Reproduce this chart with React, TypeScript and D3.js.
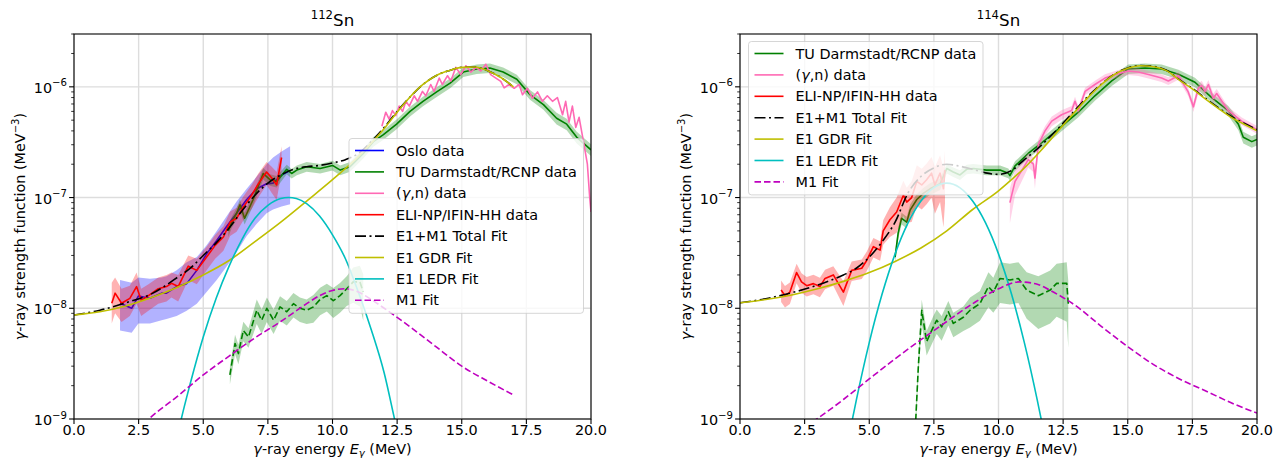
import React from 'react';
import * as d3 from 'd3';

type P = [number, number];
type PR = [number, number, number];
type PB = [number, number, number, number];

// ---------------- 112Sn ----------------
const sn112Oslo: PB[] = [
  [1.78, 1.11e-8, 6.3e-9, 1.8e-8], [2.23, 1.0e-8, 6.0e-9, 1.7e-8], [2.49, 1.29e-8, 7.3e-9, 1.9e-8],
  [2.94, 1.23e-8, 7.3e-9, 1.85e-8], [3.39, 1.37e-8, 7.8e-9, 1.9e-8], [3.58, 1.37e-8, 8.0e-9, 1.95e-8],
  [3.97, 1.57e-8, 8.5e-9, 2.2e-8], [4.36, 1.67e-8, 9.5e-9, 2.6e-8], [4.75, 2.2e-8, 1.1e-8, 2.9e-8],
  [5.13, 3.1e-8, 1.4e-8, 3.7e-8], [5.52, 4.1e-8, 1.8e-8, 5.0e-8], [5.91, 5.5e-8, 2.4e-8, 6.8e-8],
  [6.29, 7.2e-8, 3.2e-8, 9.2e-8], [6.68, 9.6e-8, 4.5e-8, 1.2e-7], [7.07, 1.2e-7, 5.8e-8, 1.55e-7],
  [7.45, 1.33e-7, 7.2e-8, 2.0e-7], [7.7, 1.35e-7, 7.8e-8, 2.3e-7], [8.03, 1.6e-7, 8.3e-8, 2.6e-7],
  [8.36, 1.75e-7, 8.7e-8, 2.9e-7],
];
const sn112Eli: PB[] = [
  [1.46, 1.11e-8, 7.3e-9, 1.7e-8], [1.59, 1.37e-8, 9.0e-9, 1.9e-8], [1.84, 1.11e-8, 7.5e-9, 1.5e-8],
  [2.16, 1.23e-8, 8.5e-9, 1.6e-8], [2.42, 1.57e-8, 1.1e-8, 2.1e-8], [2.6, 1.18e-8, 8.5e-9, 1.5e-8],
  [2.88, 1.3e-8, 9.5e-9, 1.65e-8], [3.26, 1.5e-8, 1.1e-8, 1.9e-8], [3.58, 1.57e-8, 1.15e-8, 2.0e-8],
  [3.77, 1.68e-8, 1.25e-8, 2.1e-8], [4.03, 1.57e-8, 1.15e-8, 2.0e-8], [4.42, 2.4e-8, 1.8e-8, 3.0e-8],
  [4.75, 2.2e-8, 1.65e-8, 2.8e-8], [5.13, 2.9e-8, 2.2e-8, 3.6e-8], [5.46, 3.7e-8, 2.8e-8, 4.6e-8],
  [5.78, 4.4e-8, 3.3e-8, 5.5e-8], [6.04, 6.0e-8, 4.5e-8, 7.5e-8], [6.29, 6.5e-8, 4.9e-8, 8.1e-8],
  [6.55, 8.2e-8, 6.2e-8, 1.02e-7], [6.87, 1.05e-7, 7.9e-8, 1.3e-7], [7.13, 1.33e-7, 1.0e-7, 1.65e-7],
  [7.45, 1.7e-7, 1.3e-7, 2.1e-7], [7.65, 1.5e-7, 1.1e-7, 1.9e-7], [7.84, 1.3e-7, 9.5e-8, 1.7e-7],
  [8.03, 2.3e-7, 1.7e-7, 2.9e-7],
];
const sn112TuE1: PR[] = [
  [5.97, 5.0e-8, 0.12], [6.1, 6.0e-8, 0.12], [6.29, 7.2e-8, 0.12], [6.42, 8.6e-8, 0.12], [6.6, 6.5e-8, 0.12],
  [6.93, 9.6e-8, 0.12], [7.32, 1.65e-7, 0.12], [7.58, 1.45e-7, 0.12], [7.84, 1.4e-7, 0.12], [8.23, 1.8e-7, 0.1],
  [8.42, 1.65e-7, 0.1], [8.62, 1.77e-7, 0.1], [9.0, 1.9e-7, 0.1], [9.52, 1.83e-7, 0.1], [10.0, 1.95e-7, 0.1],
  [10.3, 1.77e-7, 0.1], [10.68, 1.9e-7, 0.1], [11.19, 2.5e-7, 0.1], [11.58, 3.2e-7, 0.1], [11.97, 3.7e-7, 0.1],
  [12.48, 4.6e-7, 0.1], [13.0, 6.0e-7, 0.1], [13.5, 7.4e-7, 0.1], [14.03, 9.0e-7, 0.1], [14.55, 1.08e-6, 0.1],
  [15.06, 1.36e-6, 0.1], [15.58, 1.45e-6, 0.1], [16.09, 1.48e-6, 0.1], [16.6, 1.36e-6, 0.1], [17.13, 1.17e-6, 0.1],
  [17.64, 8.5e-7, 0.1], [18.16, 6.9e-7, 0.1], [18.67, 5.2e-7, 0.12], [19.06, 4.6e-7, 0.12], [19.45, 3.5e-7, 0.12],
  [20.0, 2.7e-7, 0.12],
];
const sn112TuM1: PR[] = [
  [6.03, 2.5e-9, 0.18], [6.23, 4.8e-9, 0.2], [6.36, 3.9e-9, 0.2], [6.55, 6.3e-9, 0.2], [6.75, 5.5e-9, 0.2],
  [7.07, 9.6e-9, 0.25], [7.26, 7.8e-9, 0.25], [7.46, 1.0e-8, 0.25], [7.72, 7.8e-9, 0.25], [7.97, 1.03e-8, 0.25],
  [8.23, 9.3e-9, 0.25], [8.49, 1.1e-8, 0.25], [8.74, 1.0e-8, 0.25], [9.0, 9.6e-9, 0.25], [9.26, 1.03e-8, 0.28],
  [9.52, 1.2e-8, 0.28], [9.78, 1.3e-8, 0.28], [10.03, 1.17e-8, 0.3], [10.29, 1.3e-8, 0.3], [10.55, 1.5e-8, 0.3],
  [10.8, 1.73e-8, 0.35], [11.06, 1.73e-8, 0.4], [11.19, 1.4e-8, 0.45],
];
const sn112GammaN: P[] = [
  [11.91, 4.4e-7], [12.06, 5.9e-7], [12.19, 5.1e-7], [12.32, 6.1e-7], [12.45, 5.5e-7], [12.58, 6.7e-7],
  [12.71, 6.0e-7], [12.84, 7.4e-7], [12.97, 6.7e-7], [13.16, 8.3e-7], [13.29, 7.4e-7], [13.48, 9.1e-7],
  [13.61, 8.3e-7], [13.8, 1.05e-6], [13.93, 9.1e-7], [14.13, 1.2e-6], [14.25, 1.05e-6], [14.45, 1.26e-6],
  [14.58, 1.13e-6], [14.77, 1.5e-6], [14.96, 1.29e-6], [15.16, 1.55e-6], [15.35, 1.36e-6], [15.55, 1.5e-6],
  [15.74, 1.39e-6], [15.93, 1.6e-6], [16.12, 1.29e-6], [16.32, 1.2e-6], [16.51, 1.12e-6], [16.64, 9.8e-7],
  [16.83, 1.05e-6], [17.03, 9.7e-7], [17.22, 1.05e-6], [17.35, 8.5e-7], [17.54, 9.7e-7], [17.73, 7.9e-7],
  [17.93, 9.0e-7], [18.12, 7.4e-7], [18.31, 8.3e-7], [18.51, 7.4e-7], [18.7, 8.0e-7], [18.9, 5.6e-7],
  [19.02, 7.4e-7], [19.15, 4.8e-7], [19.28, 6.7e-7], [19.41, 4.3e-7], [19.54, 5.3e-7], [19.73, 3.0e-7],
  [19.86, 2.0e-7], [19.95, 1.0e-7], [20.0, 7.4e-8],
];
const sn112Total: P[] = [
  [0, 8.7e-9], [1, 9.6e-9], [2, 1.12e-8], [3, 1.35e-8], [4, 1.9e-8], [4.5, 2.3e-8], [5, 3.0e-8], [5.5, 3.9e-8],
  [6, 5.3e-8], [6.5, 7.6e-8], [7, 1.05e-7], [7.5, 1.35e-7], [8, 1.6e-7], [8.5, 1.8e-7], [9, 1.9e-7],
  [9.5, 1.95e-7], [10, 2.05e-7], [10.5, 2.2e-7], [11, 2.5e-7], [11.5, 3.2e-7], [12, 4.3e-7], [12.5, 6.0e-7],
  [13, 8.1e-7], [13.5, 1.05e-6], [14, 1.26e-6], [14.5, 1.4e-6], [15, 1.5e-6], [15.5, 1.51e-6], [16, 1.4e-6],
  [16.5, 1.22e-6], [17, 1.0e-6],
];
const sn112Gdr: P[] = [
  [0, 8.7e-9], [1, 9.3e-9], [2, 1.05e-8], [3, 1.25e-8], [4, 1.55e-8], [5, 2.0e-8], [6, 2.7e-8], [7, 4.0e-8],
  [8, 6.0e-8], [9, 9.3e-8], [10, 1.45e-7], [11, 2.35e-7], [11.5, 3.1e-7], [12, 4.2e-7], [12.5, 5.9e-7],
  [13, 8.1e-7], [13.5, 1.05e-6], [14, 1.26e-6], [14.5, 1.4e-6], [15, 1.5e-6], [15.5, 1.51e-6], [16, 1.4e-6],
  [16.5, 1.22e-6], [17, 1.0e-6],
];
const sn112Ledr: P[] = [
  [4.0, 7e-10], [4.15, 1.0e-9], [4.5, 2.1e-9], [5, 5.5e-9], [5.5, 1.23e-8], [6, 2.4e-8], [6.5, 4.2e-8],
  [7, 6.5e-8], [7.5, 8.5e-8], [8, 9.8e-8], [8.3, 1.0e-7], [8.6, 9.8e-8], [9, 8.8e-8], [9.5, 6.8e-8],
  [10, 4.6e-8], [10.5, 2.8e-8], [11, 1.4e-8], [11.5, 6.4e-9], [12, 2.6e-9], [12.4, 1.0e-9], [12.55, 7e-10],
];
const sn112M1: P[] = [
  [2.7, 9e-10], [2.9, 1.0e-9], [4, 1.6e-9], [5, 2.5e-9], [6, 3.7e-9], [7, 5.4e-9], [8, 7.6e-9], [9, 1.1e-8],
  [9.5, 1.3e-8], [10, 1.45e-8], [10.5, 1.5e-8], [11, 1.4e-8], [11.5, 1.2e-8], [12, 1.0e-8], [13, 6.8e-9],
  [14, 4.5e-9], [15, 3.0e-9], [16, 2.2e-9], [17, 1.65e-9],
];

// ---------------- 114Sn ----------------
const sn114Eli: PR[] = [
  [1.59, 1.46e-8, 0.22], [1.74, 1.3e-8, 0.22], [1.93, 1.4e-8, 0.22], [2.19, 2.1e-8, 0.2], [2.38, 1.73e-8, 0.2],
  [2.58, 1.6e-8, 0.2], [2.84, 1.67e-8, 0.2], [3.09, 1.57e-8, 0.2], [3.29, 1.86e-8, 0.2], [3.61, 2.0e-8, 0.2],
  [4.0, 1.4e-8, 0.25], [4.32, 2.2e-8, 0.2], [4.71, 2.3e-8, 0.2], [4.9, 2.7e-8, 0.2], [5.16, 3.6e-8, 0.2],
  [5.42, 3.35e-8, 0.2], [5.54, 5.0e-8, 0.25], [5.8, 6.3e-8, 0.3], [6.06, 7.4e-8, 0.35], [6.32, 1.05e-7, 0.35],
  [6.45, 9.1e-8, 0.35], [6.64, 1.0e-7, 0.4], [6.84, 1.4e-7, 0.4], [7.03, 1.3e-7, 0.4], [7.22, 1.45e-7, 0.4],
  [7.41, 1.66e-7, 0.4], [7.54, 1.3e-7, 0.45], [7.74, 1.66e-7, 0.45], [7.87, 1.2e-7, 0.55], [7.93, 1.77e-7, 0.5],
];
const sn114TuE1: PR[] = [
  [6.0, 2.9e-8, 0.12], [6.12, 4.8e-8, 0.12], [6.25, 6.5e-8, 0.12], [6.45, 6.0e-8, 0.12], [6.58, 7.7e-8, 0.12],
  [6.84, 9.6e-8, 0.12], [7.09, 1.09e-7, 0.12], [7.35, 1.2e-7, 0.12], [7.74, 1.33e-7, 0.12], [8.0, 1.83e-7, 0.1],
  [8.25, 1.7e-7, 0.1], [8.51, 1.6e-7, 0.1], [8.77, 1.8e-7, 0.1], [9.03, 1.83e-7, 0.1], [9.54, 1.77e-7, 0.1],
  [10.06, 1.77e-7, 0.1], [10.38, 1.66e-7, 0.1], [10.44, 1.58e-7, 0.1], [10.64, 1.93e-7, 0.1], [11.15, 2.5e-7, 0.1],
  [11.8, 3.3e-7, 0.1], [12.44, 4.4e-7, 0.1], [13.09, 5.9e-7, 0.1], [13.73, 8.3e-7, 0.1], [14.38, 1.13e-6, 0.1],
  [15.02, 1.45e-6, 0.1], [15.67, 1.48e-6, 0.1], [16.31, 1.45e-6, 0.1], [16.96, 1.3e-6, 0.1], [17.6, 1.1e-6, 0.1],
  [18.25, 8.0e-7, 0.1], [18.89, 6.1e-7, 0.1], [19.28, 4.6e-7, 0.12], [19.47, 3.5e-7, 0.12], [19.8, 3.2e-7, 0.12],
  [20.0, 3.35e-7, 0.12],
];
const sn114TuM1: PR[] = [
  [6.78, 8e-10, 0.2], [6.9, 3.0e-9, 0.2], [7.03, 9.6e-9, 0.25], [7.22, 5.0e-9, 0.25], [7.48, 6.8e-9, 0.25],
  [7.61, 7.8e-9, 0.25], [7.8, 6.8e-9, 0.25], [8.06, 9.3e-9, 0.25], [8.25, 7.3e-9, 0.25], [8.64, 8.3e-9, 0.25],
  [8.9, 9.6e-9, 0.3], [9.28, 1.1e-8, 0.3], [9.61, 1.57e-8, 0.35], [9.8, 1.4e-8, 0.35], [10.06, 1.86e-8, 0.4],
  [10.44, 1.8e-8, 0.4], [10.77, 1.86e-8, 0.4], [11.09, 1.46e-8, 0.45], [11.54, 1.3e-8, 0.5], [12.0, 1.46e-8, 0.5],
  [12.25, 1.68e-8, 0.5], [12.64, 1.68e-8, 0.55], [12.7, 1.1e-8, 0.6],
];
const sn114GammaN: PR[] = [
  [10.44, 9.0e-8, 0.35], [10.64, 1.4e-7, 0.25], [10.9, 1.75e-7, 0.2], [11.15, 2.2e-7, 0.15], [11.35, 2.0e-7, 0.15],
  [11.41, 1.5e-7, 0.2], [11.54, 3.0e-7, 0.12], [11.8, 4.0e-7, 0.1], [12.06, 4.9e-7, 0.1], [12.44, 5.6e-7, 0.1],
  [12.83, 6.1e-7, 0.1], [12.96, 7.4e-7, 0.1], [13.09, 6.1e-7, 0.1], [13.35, 9.1e-7, 0.08], [13.73, 1.05e-6, 0.08],
  [14.12, 1.2e-6, 0.08], [14.51, 1.29e-6, 0.08], [15.02, 1.39e-6, 0.08], [15.41, 1.36e-6, 0.08], [15.8, 1.29e-6, 0.08],
  [16.31, 1.2e-6, 0.08], [16.57, 1.13e-6, 0.08], [16.96, 1.26e-6, 0.08], [17.34, 9.0e-7, 0.08], [17.54, 6.6e-7, 0.1],
  [17.73, 9.7e-7, 0.1], [17.86, 1.03e-6, 0.1], [17.99, 9.1e-7, 0.1], [18.12, 1.05e-6, 0.1], [18.31, 7.9e-7, 0.1],
  [18.44, 8.7e-7, 0.1], [18.89, 6.1e-7, 0.08], [19.41, 4.9e-7, 0.08], [20.0, 4.1e-7, 0.08],
];
const sn114Total: P[] = [
  [0, 1.12e-8], [1, 1.22e-8], [2, 1.38e-8], [3, 1.62e-8], [4, 2.0e-8], [4.5, 2.3e-8], [5, 2.9e-8], [5.5, 4.0e-8],
  [6, 6.0e-8], [6.5, 1.1e-7], [7, 1.55e-7], [7.5, 1.85e-7], [8, 2.0e-7], [8.5, 1.92e-7], [9, 1.8e-7],
  [9.5, 1.67e-7], [10, 1.62e-7], [10.5, 1.75e-7], [11, 2.2e-7], [11.5, 2.75e-7], [12, 3.55e-7], [12.5, 4.7e-7],
  [13, 6.3e-7], [13.5, 8.4e-7], [14, 1.07e-6], [14.5, 1.31e-6], [15, 1.48e-6], [15.5, 1.56e-6], [16, 1.53e-6],
  [16.5, 1.41e-6], [17, 1.16e-6], [17.5, 9.7e-7], [18, 7.9e-7], [18.5, 6.5e-7], [19, 5.4e-7], [19.5, 4.7e-7],
  [20, 4.1e-7],
];
const sn114Gdr: P[] = [
  [0, 1.12e-8], [1, 1.2e-8], [2, 1.32e-8], [3, 1.5e-8], [4, 1.75e-8], [5, 2.1e-8], [6, 2.65e-8], [7, 3.5e-8],
  [8, 5.0e-8], [9, 7.8e-8], [10, 1.15e-7], [10.5, 1.45e-7], [11, 1.85e-7], [11.5, 2.45e-7], [12, 3.3e-7],
  [12.5, 4.5e-7], [13, 6.1e-7], [13.5, 8.2e-7], [14, 1.06e-6], [14.5, 1.3e-6], [15, 1.47e-6], [15.5, 1.55e-6],
  [16, 1.52e-6], [16.5, 1.4e-6], [17, 1.15e-6], [17.5, 9.6e-7], [18, 7.8e-7], [18.5, 6.4e-7], [19, 5.3e-7],
  [19.5, 4.6e-7], [20, 4.0e-7],
];
const sn114Ledr: P[] = [
  [4.2, 7e-10], [4.35, 1.0e-9], [4.5, 1.48e-9], [5, 4.9e-9], [5.5, 1.35e-8], [6, 3.1e-8], [6.5, 5.9e-8],
  [7, 9.3e-8], [7.5, 1.23e-7], [8, 1.35e-7], [8.5, 1.23e-7], [9, 9.3e-8], [9.5, 5.9e-8], [10, 3.1e-8],
  [10.5, 1.35e-8], [11, 4.9e-9], [11.5, 1.48e-9], [11.65, 1.0e-9], [11.8, 7e-10],
];
const sn114M1: P[] = [
  [2.8, 9.4e-10], [2.97, 1.0e-9], [4, 1.5e-9], [5, 2.3e-9], [6, 3.5e-9], [7, 5.2e-9], [8, 7.6e-9], [9, 1.1e-8],
  [10, 1.5e-8], [10.8, 1.73e-8], [11.5, 1.65e-8], [12, 1.45e-8], [13, 1.05e-8], [14, 6.8e-9], [15, 4.5e-9],
  [16, 3.1e-9], [17, 2.3e-9], [18, 1.8e-9], [19, 1.4e-9], [20, 1.13e-9],
];

const xTicks = [0, 2.5, 5, 7.5, 10, 12.5, 15, 17.5, 20];
const yDecades = [-9, -8, -7, -6];
const yDomain: [number, number] = [1e-9, 3e-6];
const xDomain: [number, number] = [0, 20];

// ---------------- styling ----------------
const FONT = '"DejaVu Sans", "Liberation Sans", sans-serif';
const FS = 14.4;
const FS_SUP = 10.1;
const TOP = 34, BOTTOM = 419, AXW = 517;
const COL = {
  blue: '#0000ff', green: '#008000', pink: '#ff69b4', red: '#ff0000',
  black: '#000000', gdr: '#bfbf00', ledr: '#00bfbf', m1: '#bf00bf',
};
const DASH = '6.5,3';
const DASHDOT = '11,3.5,2,3.5';
const LW = 1.6;

type Layer =
  | { kind: 'band'; data: [number, number, number][]; fill: string; opacity: number }
  | { kind: 'line'; data: P[]; color: string; dash?: string; smooth?: boolean };

type LegendItem = { label: React.ReactNode; color: string; dash?: string };

const rel = (d: PR[]): [number, number, number][] => d.map(p => [p[0], p[1] * (1 - p[2]), p[1] * (1 + p[2])]);
const vals = (d: (PR | PB)[]): P[] => d.map(p => [p[0], p[1]]);
const abs = (d: PB[]): [number, number, number][] => d.map(p => [p[0], p[2], p[3]]);

const G = <tspan fontStyle="italic">γ</tspan>;

function Panel(props: {
  x0: number; mass: string; layers: Layer[]; legend: LegendItem[]; legendPos: [number, number];
}) {
  const { x0, mass, layers, legend, legendPos } = props;
  const x = d3.scaleLinear().domain(xDomain).range([x0, x0 + AXW]);
  const y = d3.scaleLog().domain(yDomain).range([BOTTOM, TOP]);
  const clipId = `clip-${mass}`;
  const lineLin = d3.line<P>().x(d => x(d[0])).y(d => y(d[1]));
  const lineSmooth = d3.line<P>().x(d => x(d[0])).y(d => y(d[1])).curve(d3.curveMonotoneX);
  const area = d3.area<[number, number, number]>()
    .x(d => x(d[0])).y0(d => y(Math.max(d[1], 1e-12))).y1(d => y(d[2]));

  const minor: number[] = [];
  yDecades.forEach(dd => {
    for (let m = 2; m <= 9; m++) {
      const v = m * Math.pow(10, dd);
      if (v <= yDomain[1]) minor.push(v);
    }
  });

  const [lx, ly] = legendPos;
  const rowH = 21.4;
  const boxW = 234.5;
  const boxH = 12 + (legend.length - 1) * rowH + 13;
  const cx = x0 + AXW / 2;

  return (
    <g>
      <defs>
        <clipPath id={clipId}>
          <rect x={x0} y={TOP} width={AXW} height={BOTTOM - TOP} />
        </clipPath>
      </defs>
      {/* grid */}
      <g stroke="#dddddd" strokeWidth={1.4}>
        {xTicks.map(t => <line key={'gx' + t} x1={x(t)} x2={x(t)} y1={TOP} y2={BOTTOM} />)}
        {yDecades.map(dd => <line key={'gy' + dd} x1={x0} x2={x0 + AXW} y1={y(Math.pow(10, dd))} y2={y(Math.pow(10, dd))} />)}
      </g>
      {/* data */}
      <g clipPath={`url(#${clipId})`}>
        {layers.map((L, i) =>
          L.kind === 'band' ? (
            <path key={i} d={area(L.data) || ''} fill={L.fill} fillOpacity={L.opacity} stroke="none" />
          ) : (
            <path key={i} d={(L.smooth ? lineSmooth : lineLin)(L.data) || ''} fill="none" stroke={L.color}
              strokeWidth={LW} strokeDasharray={L.dash} strokeLinejoin="round" />
          )
        )}
      </g>
      {/* spines */}
      <rect x={x0} y={TOP} width={AXW} height={BOTTOM - TOP} fill="none" stroke="#000" strokeWidth={1.1} />
      <g fontFamily={FONT} fontSize={FS} fill="#000">
        {xTicks.map(t => (
          <g key={'xt' + t}>
            <line x1={x(t)} x2={x(t)} y1={BOTTOM} y2={BOTTOM + 4.9} stroke="#000" strokeWidth={1.1} />
            <text x={x(t)} y={435} textAnchor="middle">{t.toFixed(1)}</text>
          </g>
        ))}
        {yDecades.map(dd => (
          <g key={'yt' + dd}>
            <line x1={x0 - 4.9} x2={x0} y1={y(Math.pow(10, dd))} y2={y(Math.pow(10, dd))} stroke="#000" strokeWidth={1.1} />
            <text x={x0 - 7} y={y(Math.pow(10, dd)) + 6} textAnchor="end">
              <tspan>10</tspan><tspan dy={-6.5} fontSize={FS_SUP}>{'−' + (-dd)}</tspan>
            </text>
          </g>
        ))}
        {minor.map(v => (
          <line key={'mt' + v} x1={x0 - 2.8} x2={x0} y1={y(v)} y2={y(v)} stroke="#000" strokeWidth={0.8} />
        ))}
        {/* axis labels */}
        <text x={cx} y={454} textAnchor="middle">
          {G}-ray energy <tspan fontStyle="italic">E</tspan>
          <tspan fontStyle="italic" fontSize={FS_SUP} dy={3}>γ</tspan>
          <tspan dy={-3}> (MeV)</tspan>
        </text>
        <text transform={`translate(${x0 - 49},${(TOP + BOTTOM) / 2}) rotate(-90)`} textAnchor="middle">
          {G}-ray strength function (MeV<tspan dy={-6} fontSize={FS_SUP}>−3</tspan><tspan dy={6}>)</tspan>
        </text>
        {/* title */}
        <text x={cx} y={26} textAnchor="middle" fontSize={16.7}>
          <tspan fontSize={11.7} dy={-7}>{mass}</tspan><tspan dy={7}>Sn</tspan>
        </text>
      </g>
      {/* legend */}
      <g>
        <rect x={lx} y={ly} width={boxW} height={boxH} rx={3} ry={3} fill="#ffffff" fillOpacity={0.8}
          stroke="#cccccc" strokeOpacity={0.8} strokeWidth={1} />
        {legend.map((it, i) => {
          const ry = ly + 12 + i * rowH;
          return (
            <g key={'lg' + i}>
              <line x1={lx + 6} x2={lx + 35} y1={ry} y2={ry} stroke={it.color} strokeWidth={LW} strokeDasharray={it.dash} />
              <text x={lx + 47} y={ry + 5} fontFamily={FONT} fontSize={FS} fill="#000">{it.label}</text>
            </g>
          );
        })}
      </g>
    </g>
  );
}

const legendTU: LegendItem = { label: 'TU Darmstadt/RCNP data', color: COL.green };
const legendGN: LegendItem = { label: <>({G},n) data</>, color: COL.pink };
const legendELI: LegendItem = { label: 'ELI-NP/IFIN-HH data', color: COL.red };
const legendFits: LegendItem[] = [
  { label: 'E1+M1 Total Fit', color: COL.black, dash: DASHDOT },
  { label: 'E1 GDR Fit', color: COL.gdr },
  { label: 'E1 LEDR Fit', color: COL.ledr },
  { label: 'M1 Fit', color: COL.m1, dash: DASH },
];

export default function App() {
  const layers112: Layer[] = [
    { kind: 'band', data: abs(sn112Oslo), fill: COL.blue, opacity: 0.3 },
    { kind: 'line', data: vals(sn112Oslo), color: COL.blue },
    { kind: 'band', data: rel(sn112TuE1), fill: COL.green, opacity: 0.3 },
    { kind: 'line', data: vals(sn112TuE1), color: COL.green },
    { kind: 'band', data: rel(sn112TuM1), fill: COL.green, opacity: 0.3 },
    { kind: 'line', data: vals(sn112TuM1), color: COL.green, dash: DASH },
    { kind: 'line', data: sn112GammaN, color: COL.pink },
    { kind: 'band', data: abs(sn112Eli), fill: COL.red, opacity: 0.3 },
    { kind: 'line', data: vals(sn112Eli), color: COL.red },
    { kind: 'line', data: sn112Total, color: COL.black, dash: DASHDOT, smooth: true },
    { kind: 'line', data: sn112Gdr, color: COL.gdr, smooth: true },
    { kind: 'line', data: sn112Ledr, color: COL.ledr, smooth: true },
    { kind: 'line', data: sn112M1, color: COL.m1, dash: DASH, smooth: true },
  ];
  const layers114: Layer[] = [
    { kind: 'band', data: rel(sn114TuE1), fill: COL.green, opacity: 0.3 },
    { kind: 'line', data: vals(sn114TuE1), color: COL.green },
    { kind: 'band', data: rel(sn114TuM1), fill: COL.green, opacity: 0.3 },
    { kind: 'line', data: vals(sn114TuM1), color: COL.green, dash: DASH },
    { kind: 'band', data: rel(sn114GammaN), fill: COL.pink, opacity: 0.3 },
    { kind: 'line', data: vals(sn114GammaN), color: COL.pink },
    { kind: 'band', data: rel(sn114Eli), fill: COL.red, opacity: 0.3 },
    { kind: 'line', data: vals(sn114Eli), color: COL.red },
    { kind: 'line', data: sn114Total, color: COL.black, dash: DASHDOT, smooth: true },
    { kind: 'line', data: sn114Gdr, color: COL.gdr, smooth: true },
    { kind: 'line', data: sn114Ledr, color: COL.ledr, smooth: true },
    { kind: 'line', data: sn114M1, color: COL.m1, dash: DASH, smooth: true },
  ];
  return (
    <svg width={1283} height={458} viewBox="0 0 1283 458"
      style={{ position: 'absolute', left: 0, top: 0, background: '#fff' }}>
      <rect x={0} y={0} width={1283} height={458} fill="#fff" />
      <Panel x0={74} mass="112" layers={layers112}
        legend={[{ label: 'Oslo data', color: COL.blue }, legendTU, legendGN, legendELI, ...legendFits]}
        legendPos={[349, 138.5]} />
      <Panel x0={740} mass="114" layers={layers114}
        legend={[legendTU, legendGN, legendELI, ...legendFits]}
        legendPos={[748.5, 41.5]} />
    </svg>
  );
}
